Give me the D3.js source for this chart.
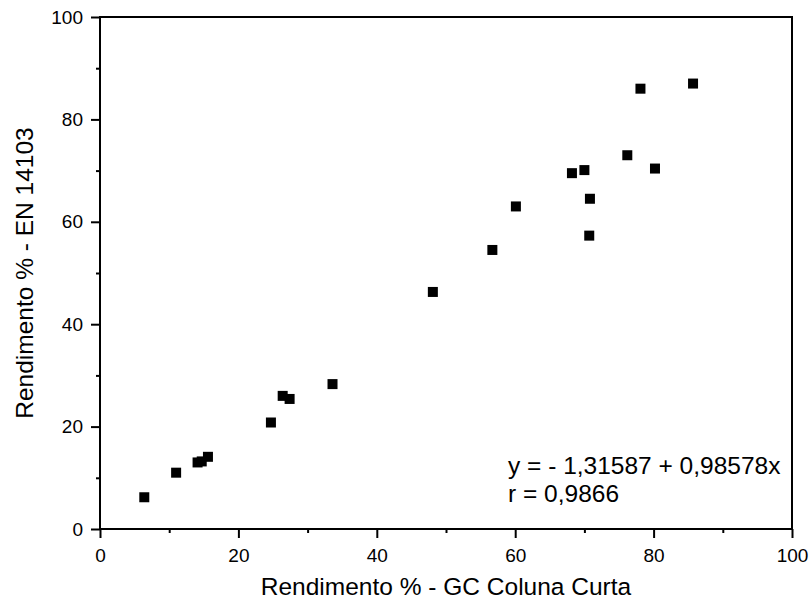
<!DOCTYPE html>
<html>
<head>
<meta charset="utf-8">
<script src="https://cdn.jsdelivr.net/npm/d3@7"></script>
<style>
  body { margin: 0; background: #fff; }
  svg text { font-family: Arial, "Liberation Sans", sans-serif; fill: #000; }
</style>
</head>
<body>
<div id="chart"></div>
<script>
// values
var gcCurta = [6.4, 11.0, 14.1, 14.7, 15.6, 24.7, 26.4, 27.4, 33.6, 48.1, 56.7, 60.1,
               68.2, 70.0, 70.8, 70.7, 76.2, 78.1, 80.2, 85.7];
var en14103 = [6.2, 11.0, 13.0, 13.2, 14.1, 20.8, 26.0, 25.4, 28.3, 46.3, 54.5, 63.0,
               69.5, 70.1, 64.5, 57.3, 73.0, 86.0, 70.4, 87.0];
var xTicks = [0, 20, 40, 60, 80, 100];
var yTicks = [0, 20, 40, 60, 80, 100];
var minorTicks = [10, 30, 50, 70, 90];
var fitLines = ['y = - 1,31587 + 0,98578x', 'r = 0,9866'];

var width = 811, height = 605;
var margin = {top: 17, right: 19, bottom: 76, left: 100};

var svg = d3.select('#chart').append('svg')
    .attr('width', width)
    .attr('height', height);

var x = d3.scaleLinear().domain([0, 100]).range([margin.left, width - margin.right]);
var y = d3.scaleLinear().domain([0, 100]).range([height - margin.bottom, margin.top]);

// frame
svg.append('rect')
    .attr('x', x(0)).attr('y', y(100))
    .attr('width', x(100) - x(0)).attr('height', y(0) - y(100))
    .style('fill', 'none').style('stroke', '#000').style('stroke-width', 2);

// bottom axis
svg.append('g').attr('transform', 'translate(0,' + y(0) + ')')
    .call(d3.axisBottom(x).tickValues(xTicks).tickSize(9).tickPadding(11));
svg.append('g').attr('transform', 'translate(0,' + y(0) + ')')
    .call(d3.axisBottom(x).tickValues(minorTicks).tickSize(4).tickFormat(''));

// left axis
svg.append('g').attr('transform', 'translate(' + x(0) + ',0)')
    .call(d3.axisLeft(y).tickValues(yTicks).tickSize(9).tickPadding(8));
svg.append('g').attr('transform', 'translate(' + x(0) + ',0)')
    .call(d3.axisLeft(y).tickValues(minorTicks).tickSize(4).tickFormat(''));

svg.selectAll('.domain').remove();
svg.selectAll('.tick line').style('stroke', '#000').style('stroke-width', 2);
svg.selectAll('.tick text').style('font-size', '19px');

// points
svg.append('g').selectAll('rect')
    .data(gcCurta)
    .enter().append('rect')
        .attr('x', function(d) {return x(d) - 5;})
        .attr('y', function(d, i) {return y(en14103[i]) - 5;})
        .attr('width', 10)
        .attr('height', 10)
        .style('fill', '#000');

// fit text
svg.append('g').selectAll('text')
    .data(fitLines)
    .enter().append('text')
        .attr('x', 508)
        .attr('y', function(d, i) {return 474 + i * 28;})
        .style('font-size', '24.5px')
        .text(function(d) {return d;});

// axis titles
svg.append('text')
    .attr('x', (x(0) + x(100)) / 2)
    .attr('y', 595)
    .attr('text-anchor', 'middle')
    .style('font-size', '24.5px')
    .text('Rendimento % - GC Coluna Curta');

svg.append('text')
    .attr('transform', 'translate(33,' + (y(0) + y(100)) / 2 + ') rotate(-90)')
    .attr('text-anchor', 'middle')
    .style('font-size', '24.5px')
    .text('Rendimento % - EN 14103');
</script>
</body>
</html>
